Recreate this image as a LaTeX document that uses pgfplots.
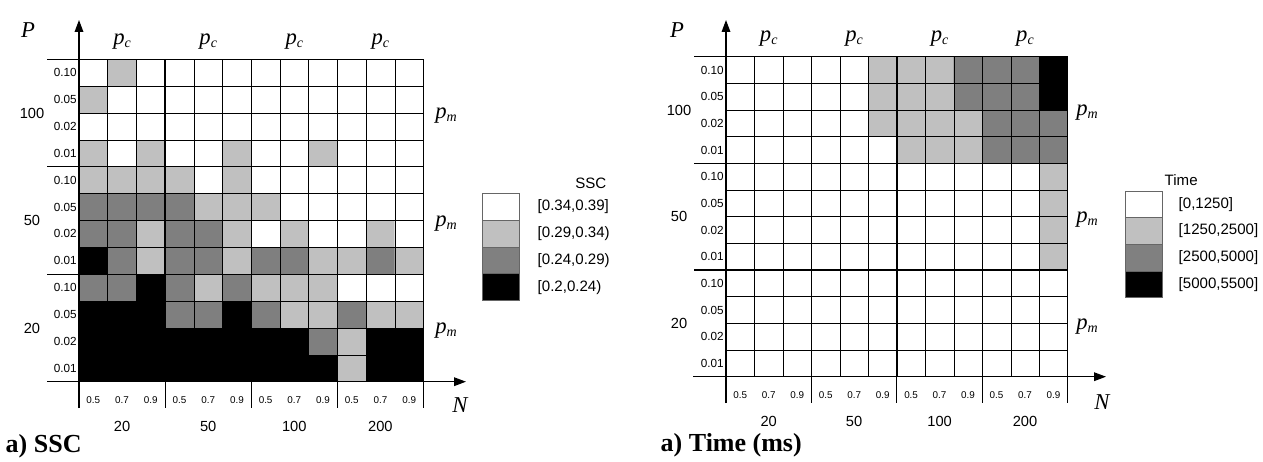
\documentclass[border=0pt]{standalone}
\usepackage{fontspec}
\setmainfont{Liberation Serif}
\setsansfont{Liberation Sans}
\usepackage{pgfplots}
\pgfplotsset{compat=1.18}
\usetikzlibrary{arrows.meta}
\definecolor{lvlA}{RGB}{255,255,255}
\definecolor{lvlB}{RGB}{192,192,192}
\definecolor{lvlC}{RGB}{128,128,128}
\definecolor{lvlD}{RGB}{0,0,0}
\newcommand{\itbig}[1]{{\fontsize{17}{17}\selectfont\itshape #1}}
\newcommand{\pc}{\itbig{p}\raisebox{-0.5ex}{\fontsize{10.5}{10.5}\selectfont\itshape c}}
\newcommand{\pmm}{\itbig{p}\raisebox{-0.5ex}{\fontsize{10.5}{10.5}\selectfont\itshape m}}
\pgfplotsset{
  heat/.style={
    scale only axis, anchor=south west,
    xmin=0.5,xmax=12.5,ymin=0.5,ymax=12.5,
    axis on top,
    colormap={bw4}{rgb255=(255,255,255) rgb255=(192,192,192) rgb255=(128,128,128) rgb255=(0,0,0)},
    point meta min=0, point meta max=3,
    xtick={1,...,12}, ytick={1,...,12},
    xticklabels={0.5,0.7,0.9,0.5,0.7,0.9,0.5,0.7,0.9,0.5,0.7,0.9},
    yticklabels={0.01,0.02,0.05,0.10,0.01,0.02,0.05,0.10,0.01,0.02,0.05,0.10},
    minor xtick={0.5,1.5,...,12.5}, minor ytick={0.5,1.5,...,12.5},
    xminorgrids=true, yminorgrids=true,
    minor grid style={black, line width=0.4pt},
    extra x ticks={3.5,6.5,9.5}, extra y ticks={4.5,8.5},
    extra x tick labels={}, extra y tick labels={},
    extra x tick style={xmajorgrids=true, major grid style={black,line width=1pt}},
    extra y tick style={ymajorgrids=true, major grid style={black,line width=1pt}},
    major tick length=0pt, minor tick length=0pt,
    axis line style={black, line width=0.9pt},
    xticklabel style={font=\fontsize{7.4}{8}\selectfont\sffamily, anchor=center, yshift=-13.5pt},
    yticklabel style={font=\fontsize{8.8}{9}\selectfont\sffamily, inner sep=1.5pt},
  }
}
\begin{document}
\begin{tikzpicture}[x=0.75pt,y=0.75pt]
\useasboundingbox (0,0) rectangle (1263,461);
% ---------------- left panel: SSC ----------------
\begin{axis}[heat, at={(59.25pt,59.48pt)}, width=258.4pt, height=241.8pt]
\addplot[matrix plot*, mesh/cols=12, point meta=explicit] coordinates {
(1,1)[3] (2,1)[3] (3,1)[3] (4,1)[3] (5,1)[3] (6,1)[3] (7,1)[3] (8,1)[3] (9,1)[3] (10,1)[1] (11,1)[3] (12,1)[3]
(1,2)[3] (2,2)[3] (3,2)[3] (4,2)[3] (5,2)[3] (6,2)[3] (7,2)[3] (8,2)[3] (9,2)[2] (10,2)[1] (11,2)[3] (12,2)[3]
(1,3)[3] (2,3)[3] (3,3)[3] (4,3)[2] (5,3)[2] (6,3)[3] (7,3)[2] (8,3)[1] (9,3)[1] (10,3)[2] (11,3)[1] (12,3)[1]
(1,4)[2] (2,4)[2] (3,4)[3] (4,4)[2] (5,4)[1] (6,4)[2] (7,4)[1] (8,4)[1] (9,4)[1] (10,4)[0] (11,4)[0] (12,4)[0]
(1,5)[3] (2,5)[2] (3,5)[1] (4,5)[2] (5,5)[2] (6,5)[1] (7,5)[2] (8,5)[2] (9,5)[1] (10,5)[1] (11,5)[2] (12,5)[1]
(1,6)[2] (2,6)[2] (3,6)[1] (4,6)[2] (5,6)[2] (6,6)[1] (7,6)[0] (8,6)[1] (9,6)[0] (10,6)[0] (11,6)[1] (12,6)[0]
(1,7)[2] (2,7)[2] (3,7)[2] (4,7)[2] (5,7)[1] (6,7)[1] (7,7)[1] (8,7)[0] (9,7)[0] (10,7)[0] (11,7)[0] (12,7)[0]
(1,8)[1] (2,8)[1] (3,8)[1] (4,8)[1] (5,8)[0] (6,8)[1] (7,8)[0] (8,8)[0] (9,8)[0] (10,8)[0] (11,8)[0] (12,8)[0]
(1,9)[1] (2,9)[0] (3,9)[1] (4,9)[0] (5,9)[0] (6,9)[1] (7,9)[0] (8,9)[0] (9,9)[1] (10,9)[0] (11,9)[0] (12,9)[0]
(1,10)[0] (2,10)[0] (3,10)[0] (4,10)[0] (5,10)[0] (6,10)[0] (7,10)[0] (8,10)[0] (9,10)[0] (10,10)[0] (11,10)[0] (12,10)[0]
(1,11)[1] (2,11)[0] (3,11)[0] (4,11)[0] (5,11)[0] (6,11)[0] (7,11)[0] (8,11)[0] (9,11)[0] (10,11)[0] (11,11)[0] (12,11)[0]
(1,12)[0] (2,12)[1] (3,12)[0] (4,12)[0] (5,12)[0] (6,12)[0] (7,12)[0] (8,12)[0] (9,12)[0] (10,12)[0] (11,12)[0] (12,12)[0]
};
\end{axis}
% ---------------- right panel: Time ----------------
\begin{axis}[heat, at={(544.5pt,63.23pt)}, width=256.3pt, height=240pt]
\addplot[matrix plot*, mesh/cols=12, point meta=explicit] coordinates {
(1,1)[0] (2,1)[0] (3,1)[0] (4,1)[0] (5,1)[0] (6,1)[0] (7,1)[0] (8,1)[0] (9,1)[0] (10,1)[0] (11,1)[0] (12,1)[0]
(1,2)[0] (2,2)[0] (3,2)[0] (4,2)[0] (5,2)[0] (6,2)[0] (7,2)[0] (8,2)[0] (9,2)[0] (10,2)[0] (11,2)[0] (12,2)[0]
(1,3)[0] (2,3)[0] (3,3)[0] (4,3)[0] (5,3)[0] (6,3)[0] (7,3)[0] (8,3)[0] (9,3)[0] (10,3)[0] (11,3)[0] (12,3)[0]
(1,4)[0] (2,4)[0] (3,4)[0] (4,4)[0] (5,4)[0] (6,4)[0] (7,4)[0] (8,4)[0] (9,4)[0] (10,4)[0] (11,4)[0] (12,4)[0]
(1,5)[0] (2,5)[0] (3,5)[0] (4,5)[0] (5,5)[0] (6,5)[0] (7,5)[0] (8,5)[0] (9,5)[0] (10,5)[0] (11,5)[0] (12,5)[1]
(1,6)[0] (2,6)[0] (3,6)[0] (4,6)[0] (5,6)[0] (6,6)[0] (7,6)[0] (8,6)[0] (9,6)[0] (10,6)[0] (11,6)[0] (12,6)[1]
(1,7)[0] (2,7)[0] (3,7)[0] (4,7)[0] (5,7)[0] (6,7)[0] (7,7)[0] (8,7)[0] (9,7)[0] (10,7)[0] (11,7)[0] (12,7)[1]
(1,8)[0] (2,8)[0] (3,8)[0] (4,8)[0] (5,8)[0] (6,8)[0] (7,8)[0] (8,8)[0] (9,8)[0] (10,8)[0] (11,8)[0] (12,8)[1]
(1,9)[0] (2,9)[0] (3,9)[0] (4,9)[0] (5,9)[0] (6,9)[0] (7,9)[1] (8,9)[1] (9,9)[1] (10,9)[2] (11,9)[2] (12,9)[2]
(1,10)[0] (2,10)[0] (3,10)[0] (4,10)[0] (5,10)[0] (6,10)[1] (7,10)[1] (8,10)[1] (9,10)[1] (10,10)[2] (11,10)[2] (12,10)[2]
(1,11)[0] (2,11)[0] (3,11)[0] (4,11)[0] (5,11)[0] (6,11)[1] (7,11)[1] (8,11)[1] (9,11)[2] (10,11)[2] (11,11)[2] (12,11)[3]
(1,12)[0] (2,12)[0] (3,12)[0] (4,12)[0] (5,12)[0] (6,12)[1] (7,12)[1] (8,12)[1] (9,12)[2] (10,12)[2] (11,12)[2] (12,12)[3]
};
\end{axis}
% ---------------- decorations ----------------
\begin{scope}[line width=0.9pt]
\draw[-{Triangle[length=9pt,width=6.5pt]}] (79,53) -- (79,441);
\draw[-{Triangle[length=9pt,width=6.5pt]}] (47,79.3) -- (466,79.3);
\foreach \x in {165.1,251.25,337.4,423.5} \draw (\x,79.3) -- (\x,53);
\foreach \y in {186.8,294.2,401.7} \draw (47,\y) -- (79,\y);
\draw[-{Triangle[length=9pt,width=6.5pt]}] (726,58) -- (726,441);
\draw[-{Triangle[length=9pt,width=6.5pt]}] (693,84.3) -- (1106,84.3);
\foreach \x in {811.4,896.85,982.3,1067.7} \draw (\x,84.3) -- (\x,58);
\foreach \y in {191,297.6,404.3} \draw (694,\y) -- (726,\y);
\end{scope}
% labels, left
\node at (28,431) {\itbig{P}};
\foreach \x in {122.05,208.2,294.3,380.4} \node at (\x,419) {\pc};
\foreach \y in {345,237.5,130} \node at (446,\y) {\pmm};
\begin{scope}[font=\fontsize{11}{12}\selectfont\sffamily]
\node at (32,348) {100};
\node at (32,240.5) {50};
\node at (32,133) {20};
\node at (122.05,35) {20};
\node at (208.2,35) {50};
\node at (294.3,35) {100};
\node at (380.4,35) {200};
\node at (679,351) {100};
\node at (679,244.3) {50};
\node at (679,137.6) {20};
\node at (768.7,40) {20};
\node at (854.1,40) {50};
\node at (939.6,40) {100};
\node at (1025,40) {200};
\end{scope}
\node at (460,56) {\itbig{N}};
\node[anchor=west, font=\fontsize{19.5}{20}\selectfont\bfseries] at (1,15) {a) SSC};
% legend left
\foreach \c/\i in {lvlA/0,lvlB/1,lvlC/2,lvlD/3}
  \filldraw[fill=\c, draw=black!60, line width=0.6pt] (482,267.7-26.85*\i) rectangle (519,267.7-26.85*\i-26.85);
\begin{scope}[font=\fontsize{11.3}{12}\selectfont\sffamily]
\node[anchor=east] at (611,278) {SSC};
\node[anchor=west] at (533,254.3) {[0.34,0.39]};
\node[anchor=west] at (533,227.4) {[0.29,0.34)};
\node[anchor=west] at (533,200.6) {[0.24,0.29)};
\node[anchor=west] at (533,173.7) {[0.2,0.24)};
\end{scope}
% labels, right
\node at (677,431) {\itbig{P}};
\foreach \x in {768.7,854.1,939.6,1025} \node at (\x,422) {\pc};
\foreach \y in {348,241.3,134.6} \node at (1087,\y) {\pmm};
\node at (1102,59) {\itbig{N}};
\node[anchor=west, font=\fontsize{19.5}{20}\selectfont\bfseries] at (656,16) {a) Time (ms)};
\foreach \c/\i in {lvlA/0,lvlB/1,lvlC/2,lvlD/3}
  \filldraw[fill=\c, draw=black!60, line width=0.6pt] (1125,270-26.7*\i) rectangle (1162,270-26.7*\i-26.7);
\begin{scope}[font=\fontsize{11.3}{12}\selectfont\sffamily]
\node[anchor=west] at (1160,281) {Time};
\node[anchor=west] at (1174,256.7) {[0,1250]};
\node[anchor=west] at (1174,230) {[1250,2500]};
\node[anchor=west] at (1174,203.3) {[2500,5000]};
\node[anchor=west] at (1174,176.6) {[5000,5500]};
\end{scope}
\end{tikzpicture}
\end{document}
